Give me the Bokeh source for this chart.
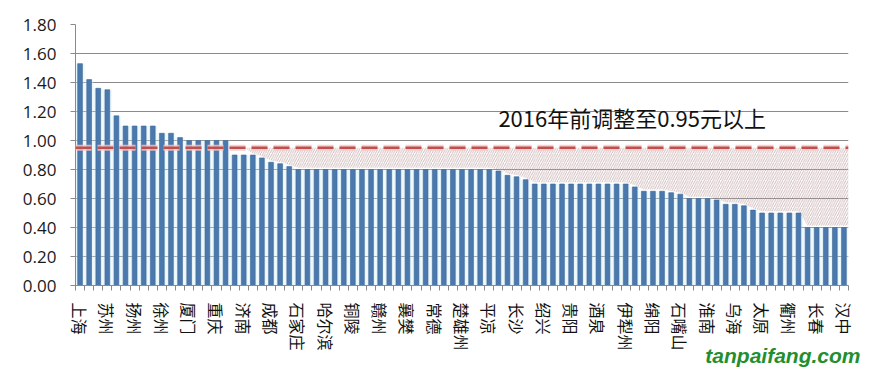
from bokeh.plotting import figure
from bokeh.models import FixedTicker, PrintfTickFormatter, Label, Range1d, Span, Title
from bokeh.embed import file_html
from bokeh.resources import INLINE

# ---- data ----
values = [1.53, 1.42, 1.36, 1.35, 1.17,
          1.10, 1.10, 1.10, 1.10,
          1.05, 1.05, 1.02,
          1.00, 1.00, 1.00, 1.00, 1.00,
          0.90, 0.90, 0.90,
          0.88, 0.85, 0.84, 0.82,
          0.80, 0.80, 0.80, 0.80, 0.80, 0.80, 0.80, 0.80, 0.80, 0.80, 0.80,
          0.80, 0.80, 0.80, 0.80, 0.80, 0.80, 0.80, 0.80, 0.80, 0.80, 0.80,
          0.79, 0.76, 0.75, 0.73,
          0.70, 0.70, 0.70, 0.70, 0.70, 0.70, 0.70, 0.70, 0.70, 0.70, 0.70,
          0.68, 0.65, 0.65, 0.65, 0.64, 0.63,
          0.60, 0.60, 0.60, 0.59, 0.56, 0.56, 0.55, 0.52,
          0.50, 0.50, 0.50, 0.50, 0.50,
          0.40, 0.40, 0.40, 0.40, 0.40]
tick_labels = ["上海", "苏州", "扬州", "徐州", "厦门", "重庆", "济南", "成都", "石家庄",
               "哈尔滨", "铜陵", "赣州", "襄樊", "常德", "楚雄州", "平凉", "长沙", "绍兴",
               "贵阳", "酒泉", "伊犁州", "绵阳", "石嘴山", "淮南", "乌海", "太原", "衢州",
               "长春", "汉中"]
y_ticks = [0.0, 0.2, 0.4, 0.6, 0.8, 1.0, 1.2, 1.4, 1.6, 1.8]
target = 0.95
note = "2016年前调整至0.95元以上"
watermark = "tanpaifang.com"
label_step = 3
hatch_from = 20  # first bar (1-based) under the hatched band

# ---- derived ----
n = len(values)
xs = list(range(1, n + 1))
label_pos = xs[::label_step]
overrides = {pos: name for pos, name in zip(label_pos, tick_labels)}

gap = 0.012
hx = [hatch_from - 1] + xs[hatch_from - 1:] + [n + 0.5]
hb = [target] + [v + gap for v in values[hatch_from - 1:]] + [values[-1] + gap]
ht = [target] * len(hx)

GRID = "#8a8a8a"

p = figure(width=863, height=372, output_backend="svg", toolbar_location=None,
           x_range=Range1d(0.5, n + 0.5), y_range=Range1d(0, 1.8),
           min_border_left=75, min_border_right=15, min_border_top=24,
           min_border_bottom=87)
p.outline_line_color = None
p.background_fill_color = "white"
p.border_fill_color = "white"

# hatched band between bar tops and the target
p.varea(x=hx, y1=hb, y2=ht, fill_color=None, fill_alpha=0,
        hatch_pattern="/", hatch_color="#c2a4a4", hatch_scale=4.5, hatch_weight=0.75)

# soft glow behind bars
p.vbar(x=xs, top=values, width=0.95, fill_color="#cfeaf5", fill_alpha=0.45,
       line_color=None)
# bars
p.vbar(x=xs, top=values, width=0.52, fill_color="#4b79ae", line_color="#3e6898",
       line_width=0.6)

# target dashed line
p.add_layout(Span(location=target, dimension="width", line_color="#f3c8c8",
                  line_width=6, line_dash="16 6", line_alpha=0.8))
p.add_layout(Span(location=target, dimension="width", line_color="#c0504d",
                  line_width=2.5, line_dash="16 6"))

# grid
p.xgrid.grid_line_color = None
p.ygrid.grid_line_color = GRID
p.ygrid.grid_line_width = 1
p.ygrid.ticker = FixedTicker(ticks=y_ticks)

# y axis
p.yaxis.ticker = FixedTicker(ticks=y_ticks, minor_ticks=[])
p.yaxis.formatter = PrintfTickFormatter(format="%.2f")
p.yaxis.axis_line_color = GRID
p.yaxis.major_tick_line_color = GRID
p.yaxis.major_tick_out = 5
p.yaxis.major_tick_in = 0
p.yaxis.minor_tick_line_color = None
p.yaxis.major_label_standoff = 14
p.yaxis.major_label_text_font = "Open Sans"
p.yaxis.major_label_text_font_size = "17px"
p.yaxis.major_label_text_color = "#1a1a1a"

# x axis
boundaries = [i + 0.5 for i in range(0, n + 1)]
p.xaxis.ticker = FixedTicker(ticks=label_pos, minor_ticks=boundaries)
p.xaxis.major_label_overrides = overrides
p.xaxis.major_label_orientation = "vertical"
p.xaxis.axis_line_color = GRID
p.xaxis.major_tick_line_color = None
p.xaxis.major_tick_out = 0
p.xaxis.major_tick_in = 0
p.xaxis.minor_tick_line_color = GRID
p.xaxis.minor_tick_out = 5
p.xaxis.minor_tick_in = 0
p.xaxis.major_label_standoff = 12
p.xaxis.major_label_text_font = "Noto Sans CJK SC"
p.xaxis.major_label_text_font_size = "16px"
p.xaxis.major_label_text_color = "#111111"

# annotation text
p.add_layout(Label(x=47, y=1.16, text=note, text_font="Noto Sans CJK SC",
                   text_font_size="22px", text_color="#111111",
                   text_baseline="middle", text_align="left"))

# watermark below the axis
p.add_layout(Title(text=watermark, align="right", offset=-12, standoff=-26,
                   text_color="#1f8f2f", text_font="Liberation Sans",
                   text_font_size="21px", text_font_style="bold italic"), "below")

open("out.html", "w").write(file_html(p, INLINE))
